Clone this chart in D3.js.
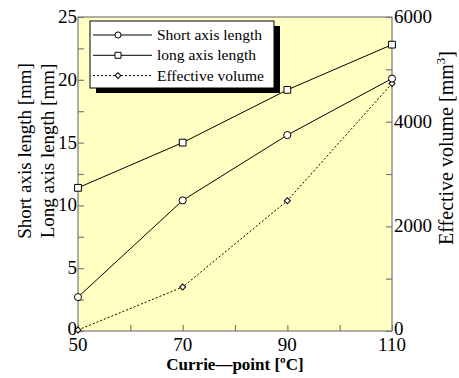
<!DOCTYPE html>
<html>
<head>
<meta charset="utf-8">
<script src="https://cdn.jsdelivr.net/npm/d3@7"></script>
<style>
  body { margin: 0; background: #fff; }
</style>
</head>
<body>
<script>
// chart values
var curiePoints = [50, 70, 90, 110];
var shortAxis = [2.7, 10.4, 15.6, 20.1];
var longAxis = [11.4, 15.0, 19.2, 22.8];
var effVolume = [20, 840, 2490, 4730];
var xTicks = [50, 70, 90, 110];
var leftTicks = [0, 5, 10, 15, 20, 25];
var rightTicks = [0, 2000, 4000, 6000];
var seriesNames = ["Short axis length", "long axis length", "Effective volume"];

var width = 459, height = 378;
var margin = {left: 78, right: 67, top: 17, bottom: 47};
var plotW = width - margin.left - margin.right,
    plotH = height - margin.top - margin.bottom;

var svg = d3.select("body").append("svg")
    .attr("width", width)
    .attr("height", height)
    .attr("font-family", "'Liberation Serif', 'Times New Roman', Times, serif");

var x = d3.scaleLinear().domain([50, 110]).range([0, plotW]);
var yL = d3.scaleLinear().domain([0, 25]).range([plotH, 0]);
var yR = d3.scaleLinear().domain([0, 6000]).range([plotH, 0]);

var g = svg.append("g").attr("transform", "translate(" + margin.left + "," + margin.top + ")");

// yellow plot area
g.append("rect")
    .attr("width", plotW).attr("height", plotH)
    .attr("fill", "#ffffc2")
    .attr("stroke", "#7a7a7a").attr("stroke-width", 1.2);

// axes with inward ticks
var xAxis = g.append("g").attr("transform", "translate(0," + plotH + ")")
    .call(d3.axisBottom(x).tickValues(d3.range(50, 111, 10)).tickSize(-6).tickFormat(""));
var leftAxis = g.append("g")
    .call(d3.axisLeft(yL).tickValues(d3.range(0, 25.1, 2.5)).tickSize(-6).tickFormat(""));
var rightAxis = g.append("g").attr("transform", "translate(" + plotW + ",0)")
    .call(d3.axisRight(yR).tickValues(d3.range(0, 6001, 1000)).tickSize(-6).tickFormat(""));
[xAxis, leftAxis, rightAxis].forEach(function(a) {
    a.select(".domain").remove();
    a.attr("font-family", null);
    a.selectAll("line").attr("stroke", "#7a7a7a").attr("stroke-width", 1.2);
});

// tick labels
g.selectAll(".xlab").data(xTicks).enter().append("text")
    .attr("x", function(d) { return x(d); })
    .attr("y", plotH + 20)
    .attr("text-anchor", "middle")
    .attr("font-size", 19)
    .text(function(d) { return d; });
g.selectAll(".llab").data(leftTicks).enter().append("text")
    .attr("x", -1)
    .attr("y", function(d) { return yL(d) + (d === 0 ? 4 : 6); })
    .attr("text-anchor", "end")
    .attr("font-size", 19)
    .text(function(d) { return d; });
g.selectAll(".rlab").data(rightTicks).enter().append("text")
    .attr("x", 2)
    .attr("dx", plotW)
    .attr("y", function(d) { return yR(d) + (d === 0 ? 4 : 6); })
    .attr("text-anchor", "start")
    .attr("font-size", 19)
    .text(function(d) { return d; });

// axis titles
svg.append("text")
    .attr("x", margin.left + plotW / 2)
    .attr("y", 370)
    .attr("text-anchor", "middle")
    .attr("font-size", 17)
    .attr("font-weight", "bold")
    .text("Currie\u2014point [\u00baC]");
svg.append("text")
    .attr("transform", "translate(31,151) rotate(-90)")
    .attr("text-anchor", "middle")
    .attr("font-size", 19)
    .text("Short axis length [mm]");
svg.append("text")
    .attr("transform", "translate(54,151) rotate(-90)")
    .attr("text-anchor", "middle")
    .attr("font-size", 19)
    .text("Long axis length [mm]");
var rt = svg.append("text")
    .attr("transform", "translate(453,148) rotate(-90)")
    .attr("text-anchor", "middle")
    .attr("font-size", 20);
rt.append("tspan").text("Effective volume [mm");
rt.append("tspan").attr("dy", -8).attr("font-size", 13).text("3");
rt.append("tspan").attr("dy", 8).text("]");

// lines
function drawSeries(values, yScale, dashed, marker) {
    var pts = curiePoints.map(function(c, i) { return [x(c), yScale(values[i])]; });
    g.append("path")
        .attr("d", d3.line()(pts))
        .attr("fill", "none")
        .attr("stroke", "#000")
        .attr("stroke-width", 1)
        .attr("stroke-dasharray", dashed ? "2,2" : null);
    g.selectAll(null).data(pts).enter().append("path")
        .attr("transform", function(p) { return "translate(" + p[0] + "," + p[1] + ")" + (marker === "diamond" ? " rotate(45)" : ""); })
        .attr("d", markerPath(marker))
        .attr("fill", "#fff")
        .attr("stroke", "#000")
        .attr("stroke-width", 1);
}
function markerPath(m) {
    if (m === "circle") return d3.symbol(d3.symbolCircle, 40)();
    if (m === "square") return d3.symbol(d3.symbolSquare, 46)();
    return d3.symbol(d3.symbolSquare, 18)();
}
drawSeries(effVolume, yR, true, "diamond");
drawSeries(longAxis, yL, false, "square");
drawSeries(shortAxis, yL, false, "circle");

// legend with shadow
var lg = svg.append("g").attr("transform", "translate(90,21)");
var lw = 184, lh = 67;
lg.append("rect").attr("x", 6).attr("y", 5).attr("width", lw).attr("height", lh).attr("fill", "#000");
lg.append("rect").attr("width", lw).attr("height", lh).attr("fill", "#fff")
    .attr("stroke", "#000").attr("stroke-width", 1);
var markers = ["circle", "square", "diamond"];
seriesNames.forEach(function(name, i) {
    var yy = 14 + i * 20.3;
    lg.append("line").attr("x1", 3).attr("x2", 62).attr("y1", yy).attr("y2", yy)
        .attr("stroke", "#000").attr("stroke-width", 1)
        .attr("stroke-dasharray", i === 2 ? "2,2" : null);
    lg.append("path")
        .attr("transform", "translate(28," + yy + ")" + (i === 2 ? " rotate(45)" : ""))
        .attr("d", markers[i] === "circle" ? d3.symbol(d3.symbolCircle, 30)() :
                   markers[i] === "square" ? d3.symbol(d3.symbolSquare, 36)() :
                   d3.symbol(d3.symbolSquare, 16)())
        .attr("fill", "#fff").attr("stroke", "#000");
    lg.append("text").attr("x", 67).attr("y", yy + 5)
        .attr("font-size", 15.5)
        .text(name);
});
</script>
</body>
</html>
